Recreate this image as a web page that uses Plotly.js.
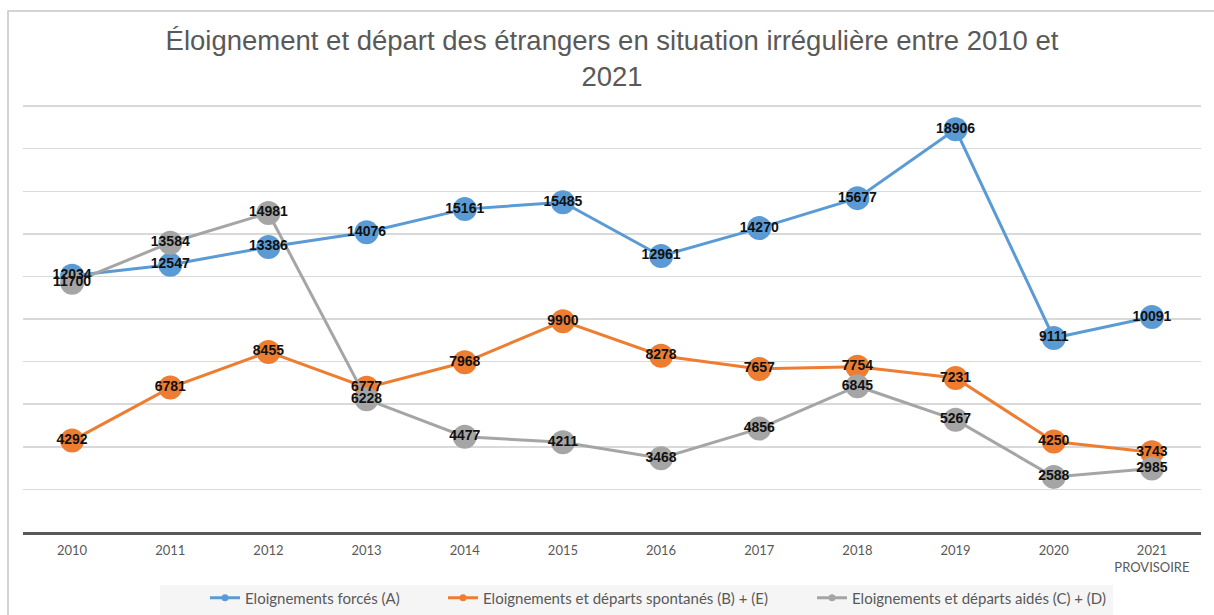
<!DOCTYPE html>
<html>
<head>
<meta charset="utf-8">
<script src="https://cdn.plot.ly/plotly-3.0.1.min.js"></script>
<style>html,body{margin:0;padding:0;background:#fff;}#chart{width:1214px;height:615px;}</style>
</head>
<body>
<div id="chart"></div>
<script>
const years = ["2010","2011","2012","2013","2014","2015","2016","2017","2018","2019","2020","2021"];
const tickLabels = ["2010","2011","2012","2013","2014","2015","2016","2017","2018","2019","2020","2021<br>PROVISOIRE"];
const forces = [12034, 12547, 13386, 14076, 15161, 15485, 12961, 14270, 15677, 18906, 9111, 10091];
const spontanes = [4292, 6781, 8455, 6777, 7968, 9900, 8278, 7657, 7754, 7231, 4250, 3743];
const aides = [11700, 13584, 14981, 6228, 4477, 4211, 3468, 4856, 6845, 5267, 2588, 2985];
const seriesNames = ["Eloignements forcés (A)", "Eloignements et départs spontanés (B) + (E)", "Eloignements et départs aidés (C) + (D)"];
const colors = ["#5B9BD5", "#ED7D31", "#A5A5A5"];
const series = [forces, spontanes, aides];
const legendIds = ['legend', 'legend2', 'legend3'];

const traces = [];
series.forEach((vals, i) => {
  traces.push({
    x: years, y: vals, type: 'scatter', mode: 'lines+markers',
    line: {color: colors[i], width: 3},
    marker: {color: colors[i], size: 24},
    showlegend: false, hoverinfo: 'skip', cliponaxis: false
  });
});
series.forEach((vals, i) => {
  traces.push({
    x: years, y: vals, type: 'scatter', mode: 'text',
    text: vals.map(String), textposition: 'middle center',
    textfont: {family: 'Liberation Sans, Arial, sans-serif', size: 14, color: '#111', weight: 'bold'},
    showlegend: false, hoverinfo: 'skip', cliponaxis: false
  });
});
series.forEach((vals, i) => {
  traces.push({
    x: [null], y: [null], type: 'scatter', mode: 'lines+markers',
    name: seriesNames[i], legend: legendIds[i],
    line: {color: colors[i], width: 3},
    marker: {color: colors[i], size: 7}
  });
});

const plotL = 23, plotR = 1201, plotT = 105, plotB = 532;
const W = 1214, H = 615;
const pw = plotR - plotL, ph = plotB - plotT;
const px = v => (v - plotL) / pw;
const py = v => (plotB - v) / ph;

const legendBase = {
  orientation: 'h', xanchor: 'left', y: py(598), yanchor: 'middle',
  bgcolor: 'rgba(0,0,0,0)',
  font: {family: 'Lato, Open Sans, sans-serif', size: 15, color: '#595959'},
  itemclick: false, itemdoubleclick: false
};
const symbolStarts = [210, 448, 817];

const layout = {
  width: W, height: H,
  paper_bgcolor: '#fff', plot_bgcolor: '#fff',
  margin: {l: plotL, r: W - plotR, t: plotT, b: H - plotB, pad: 0, autoexpand: false},
  title: {
    text: "Éloignement et départ des étrangers en situation irrégulière entre 2010 et<br>2021",
    font: {family: 'Liberation Sans Narrow, Arial Narrow, Liberation Sans, Arial, sans-serif', size: 27.5, color: '#595959'},
    x: 0.5, xref: 'paper', xanchor: 'center',
    y: 1 - 50 / H, yref: 'container', yanchor: 'top'
  },
  xaxis: {
    type: 'category', range: [-0.5, 11.5],
    tickvals: years, ticktext: tickLabels,
    tickfont: {family: 'Lato, Open Sans, sans-serif', size: 13, color: '#595959'},
    showline: true, linecolor: '#595959', linewidth: 2.5,
    showgrid: false, zeroline: false, ticks: '', ticklen: 0, ticklabelstandoff: 5,
    fixedrange: true
  },
  yaxis: {
    range: [0, 20050], dtick: 2000, tick0: 0,
    showticklabels: false, showgrid: true, gridcolor: '#d9d9d9', gridwidth: 1.5,
    zeroline: false, showline: false, ticks: '', fixedrange: true
  },
  showlegend: true,
  legend: Object.assign({}, legendBase, {x: px(symbolStarts[0] - 5)}),
  legend2: Object.assign({}, legendBase, {x: px(symbolStarts[1] - 5)}),
  legend3: Object.assign({}, legendBase, {x: px(symbolStarts[2] - 5)}),
  shapes: [
    {type: 'rect', xref: 'paper', yref: 'paper', layer: 'below',
     x0: px(160), x1: px(1113), y0: py(585), y1: py(620),
     fillcolor: '#f5f5f5', line: {width: 0}},
    {type: 'rect', xref: 'paper', yref: 'paper', layer: 'below',
     x0: px(8), x1: px(1300), y0: py(11), y1: py(640),
     fillcolor: 'rgba(0,0,0,0)', line: {color: '#c6c6c6', width: 1.5}}
  ]
};

Plotly.newPlot('chart', traces, layout, {displayModeBar: false, staticPlot: true});
</script>
</body>
</html>
